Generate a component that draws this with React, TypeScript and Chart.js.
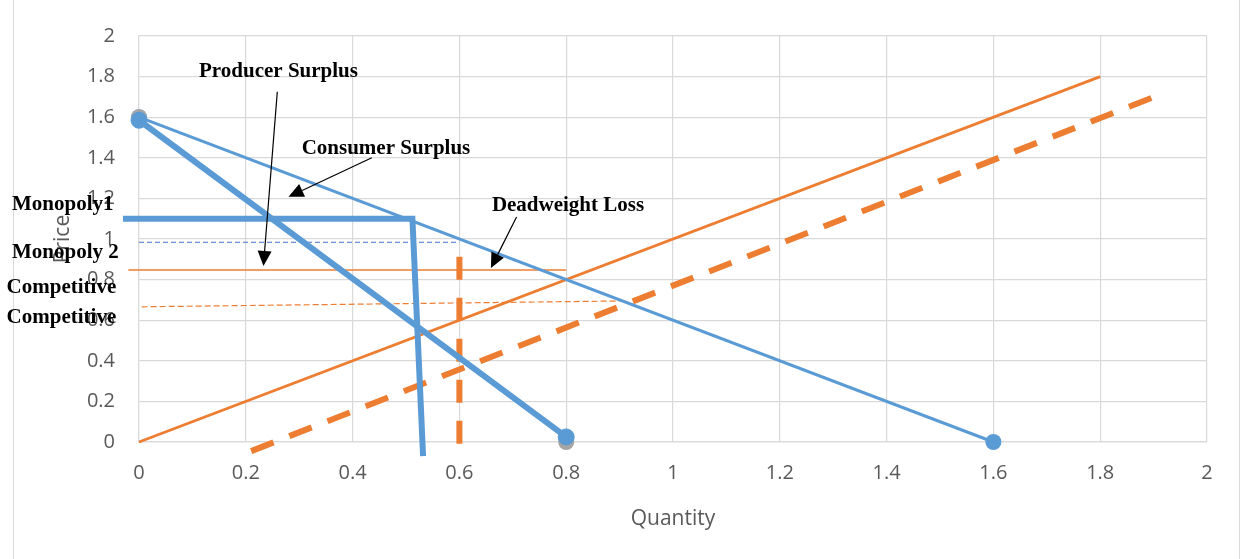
import React, { useEffect, useRef } from 'react';
import { Chart, registerables } from 'chart.js';

Chart.register(...registerables);

// Market lines (quantity, price)
const demandQ = [0, 1.6];
const demandP = [1.6, 0];
const mrQ = [0, 0.8];
const mrP = [1.585, 0.025];
const interceptQ = [0, 0.8];
const interceptP = [1.6, 0];
const supplyQ = [0, 1.8];
const supplyP = [0, 1.8];
const shiftedSupplyQ = [0.21, 1.925];
const shiftedSupplyP = [-0.045, 1.725];
const monopolyQ = [-0.03, 0.512, 0.532];
const monopolyP = [1.1, 1.1, -0.07];
const monopoly2Q = [0, 0.6];
const monopoly2P = [0.984, 0.984];
const competitiveQ = [-0.02, 0.8];
const competitiveP = [0.847, 0.847];
const competitive2Q = [0.005, 0.91];
const competitive2P = [0.666, 0.695];
const quotaQ = [0.6, 0.6];
const quotaP = [0.913, -0.03];

// Axis ranges
const axisMin = 0;
const axisMax = 2;
const axisStep = 0.2;

// Callout labels and arrows, anchored in data units
const calloutLabels = [
  { text: 'Producer Surplus', x: 0.2612, y: 1.798, align: 'center' },
  { text: 'Consumer Surplus', x: 0.4625, y: 1.419, align: 'center' },
  { text: 'Deadweight Loss', x: 0.8034, y: 1.139, align: 'center' },
  { text: 'Monopoly1', x: -0.2378, y: 1.143, align: 'left' },
  { text: 'Monopoly 2', x: -0.2378, y: 0.906, align: 'left' },
  { text: 'Competitive', x: -0.248, y: 0.734, align: 'left' },
  { text: 'Competitive', x: -0.248, y: 0.586, align: 'left' },
];
const calloutArrows = [
  { from: [0.259, 1.725], to: [0.233, 0.867] },
  { from: [0.436, 1.4], to: [0.28, 1.208] },
  { from: [0.707, 1.108], to: [0.659, 0.857] },
];

const BLUE = '#5B9BD5';
const ORANGE = '#ED7D31';
const GRAY = '#A5A5A5';
const DARK_BLUE = '#4472C4';

const zip = (q: number[], p: number[]) => q.map((x, i) => ({ x, y: p[i] }));

const calloutPlugin = {
  id: 'callouts',
  afterDraw(chart: any) {
    const { ctx } = chart;
    const xs = chart.scales.x;
    const ys = chart.scales.y;
    ctx.save();
    ctx.fillStyle = '#000';
    ctx.strokeStyle = '#000';
    ctx.font = 'bold 21px "Liberation Serif", "Times New Roman", serif';
    ctx.textBaseline = 'alphabetic';
    calloutLabels.forEach((l) => {
      ctx.textAlign = l.align;
      ctx.fillText(l.text, xs.getPixelForValue(l.x), ys.getPixelForValue(l.y));
    });
    calloutArrows.forEach((a) => {
      const x1 = xs.getPixelForValue(a.from[0]);
      const y1 = ys.getPixelForValue(a.from[1]);
      const x2 = xs.getPixelForValue(a.to[0]);
      const y2 = ys.getPixelForValue(a.to[1]);
      const ang = Math.atan2(y2 - y1, x2 - x1);
      const headLen = 15;
      const headHalf = 7;
      const bx = x2 - headLen * Math.cos(ang);
      const by = y2 - headLen * Math.sin(ang);
      ctx.lineWidth = 1.2;
      ctx.beginPath();
      ctx.moveTo(x1, y1);
      ctx.lineTo(bx, by);
      ctx.stroke();
      ctx.beginPath();
      ctx.moveTo(x2, y2);
      ctx.lineTo(bx + headHalf * Math.sin(ang), by - headHalf * Math.cos(ang));
      ctx.lineTo(bx - headHalf * Math.sin(ang), by + headHalf * Math.cos(ang));
      ctx.closePath();
      ctx.fill();
    });
    ctx.restore();
  },
};

const tickFont = { family: '"Open Sans", sans-serif', size: 20 };
const titleFont = { family: '"Open Sans", sans-serif', size: 21 };

export default function App() {
  const ref = useRef<HTMLCanvasElement>(null);

  useEffect(() => {
    const base = { clip: false as const, pointRadius: 0, fill: false, tension: 0 };
    const chart = new Chart(ref.current as HTMLCanvasElement, {
      type: 'line',
      data: {
        datasets: [
          {
            ...base,
            label: 'MR',
            data: zip(mrQ, mrP),
            borderColor: BLUE,
            backgroundColor: BLUE,
            borderWidth: 6,
            pointRadius: 8,
            pointBorderWidth: 1,
            pointBorderColor: BLUE,
            pointBackgroundColor: BLUE,
          },
          {
            ...base,
            label: 'Intercepts',
            data: zip(interceptQ, interceptP),
            showLine: false,
            pointRadius: 8,
            pointBorderWidth: 0,
            pointBackgroundColor: GRAY,
            borderColor: GRAY,
          },
          {
            ...base,
            label: 'Demand',
            data: zip(demandQ, demandP),
            borderColor: BLUE,
            borderWidth: 3,
            pointRadius: 8,
            pointBorderWidth: 0,
            pointBackgroundColor: BLUE,
          },
          {
            ...base,
            label: 'Monopoly',
            data: zip(monopolyQ, monopolyP),
            borderColor: BLUE,
            borderWidth: 6,
            borderJoinStyle: 'miter',
          },
          {
            ...base,
            label: 'Monopoly 2',
            data: zip(monopoly2Q, monopoly2P),
            borderColor: DARK_BLUE,
            borderWidth: 1.2,
            borderDash: [5, 3],
          },
          {
            ...base,
            label: 'Quota',
            data: zip(quotaQ, quotaP),
            borderColor: ORANGE,
            borderWidth: 6,
            borderDash: [23, 18],
            borderCapStyle: 'butt',
          },
          {
            ...base,
            label: 'Supply',
            data: zip(supplyQ, supplyP),
            borderColor: ORANGE,
            borderWidth: 2.8,
          },
          {
            ...base,
            label: 'Supply 2',
            data: zip(shiftedSupplyQ, shiftedSupplyP),
            borderColor: ORANGE,
            borderWidth: 6,
            borderDash: [24, 17],
          },
          {
            ...base,
            label: 'Competitive',
            data: zip(competitiveQ, competitiveP),
            borderColor: ORANGE,
            borderWidth: 1.5,
          },
          {
            ...base,
            label: 'Competitive 2',
            data: zip(competitive2Q, competitive2P),
            borderColor: ORANGE,
            borderWidth: 1.2,
            borderDash: [6, 3],
          },
        ] as any,
      },
      options: {
        animation: false,
        responsive: false,
        devicePixelRatio: 1,
        layout: { padding: { left: 46, right: 36, top: 36, bottom: 23 } },
        plugins: { legend: { display: false }, tooltip: { enabled: false } },
        scales: {
          x: {
            type: 'linear',
            min: axisMin,
            max: axisMax,
            afterFit: (s: any) => {
              s.height = 94;
            },
            ticks: {
              stepSize: axisStep,
              font: tickFont,
              color: '#595959',
              padding: 19,
              maxRotation: 0,
              autoSkip: false,
              callback: (v: any) => String(Math.round(Number(v) * 10) / 10),
            },
            grid: { color: '#d9d9d9', lineWidth: 1.2, drawTicks: false },
            border: { color: '#d9d9d9', width: 1.2 },
            title: { display: true, text: 'Quantity', font: titleFont, color: '#595959' },
          },
          y: {
            type: 'linear',
            min: axisMin,
            max: axisMax,
            afterFit: (s: any) => {
              s.width = 93;
            },
            ticks: {
              stepSize: axisStep,
              font: tickFont,
              color: '#595959',
              padding: 24,
              autoSkip: false,
              callback: (v: any) => String(Math.round(Number(v) * 10) / 10),
            },
            grid: { color: '#d9d9d9', lineWidth: 1.2, drawTicks: false },
            border: { color: '#d9d9d9', width: 1.2 },
            title: { display: true, text: 'Price', font: titleFont, color: '#595959' },
          },
        },
      } as any,
      plugins: [calloutPlugin],
    });
    return () => chart.destroy();
  }, []);

  return (
    <div
      style={{
        position: 'fixed',
        left: 0,
        top: 0,
        width: 1243,
        height: 559,
        background: '#fff',
        overflow: 'hidden',
      }}
    >
      <div
        style={{
          position: 'absolute',
          left: 13,
          top: -2,
          width: 1225,
          height: 600,
          border: '1px solid #d9d9d9',
        }}
      />
      <canvas
        ref={ref}
        width={1243}
        height={559}
        style={{ position: 'absolute', left: 0, top: 0, width: 1243, height: 559 }}
      />
    </div>
  );
}
